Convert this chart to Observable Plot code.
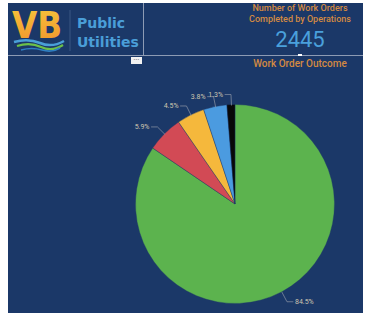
<!DOCTYPE html>
<html>
<head>
<meta charset="utf-8">
<script src="https://cdn.jsdelivr.net/npm/d3@7"></script>
<script src="https://cdn.jsdelivr.net/npm/@observablehq/plot@0.6"></script>
<style>
  html, body { margin: 0; padding: 0; background: #ffffff; width: 371px; height: 320px; overflow: hidden; }
  #panel { position: absolute; left: 8px; top: 3px; width: 355px; height: 310px; background: #1b3868; overflow: hidden; }
  .abs { position: absolute; }
  .title { color: #d48a42; font-family: Roboto, "Noto Sans", sans-serif; font-weight: 500; text-align: center; white-space: nowrap; }
  #chart { position: absolute; left: 0px; top: 67px; }
</style>
</head>
<body>
<div id="panel">
  <!-- logo -->
  <svg class="abs" style="left:0;top:0" width="135" height="52">
    <defs>
      <linearGradient id="vbg" x1="0" y1="0" x2="0" y2="1">
        <stop offset="0" stop-color="#f8c83c"/>
        <stop offset="1" stop-color="#f0922c"/>
      </linearGradient>
    </defs>
    <text x="4" y="35" font-family="DejaVu Sans" font-weight="bold" font-size="38" fill="url(#vbg)" transform="translate(4,0) scale(0.86,1) translate(-4,0)">VB</text>
    <path d="M6,39 Q20,35 32,40 T56,38" fill="none" stroke="#4a9fd8" stroke-width="2.5"/>
    <path d="M9,43 Q22,39 33,44 T55,42" fill="none" stroke="#6cc04a" stroke-width="2.2"/>
    <path d="M13,47 Q24,44 34,47 T52,45" fill="none" stroke="#2f7fc2" stroke-width="1.6"/>
    <line x1="62" y1="7" x2="62" y2="48" stroke="#3b5683" stroke-width="1"/>
    <text x="69" y="25" font-family="DejaVu Sans" font-weight="bold" font-size="14" fill="#4a9ed8">Public</text>
    <text x="69" y="44" font-family="DejaVu Sans" font-weight="bold" font-size="14" fill="#4a9ed8">Utilities</text>
  </svg>
  <div class="abs" style="left:135px;top:0;width:1px;height:52px;background:#8d9bb4"></div>
  <div class="abs" style="left:0;top:52px;width:355px;height:1px;background:#8d9bb4"></div>
  <div class="abs" style="left:123px;top:54px;width:11px;height:7px;background:#f2f2f2;color:#777;font:bold 6px sans-serif;line-height:4px;text-align:center">···</div>
  <div class="abs" style="left:290px;top:51px;width:4px;height:2px;background:#ffffff"></div>
  <div class="abs title" style="left:232px;top:0px;width:120px;font-size:9px;line-height:11px">Number of Work Orders<br>Completed by Operations</div>
  <div class="abs" style="left:232px;top:25px;width:120px;text-align:center;color:#4aa0dc;font-family:Roboto, sans-serif;font-size:22px;line-height:24px">2445</div>
  <div class="abs title" style="left:232px;top:55px;width:120px;font-size:10px;line-height:12px">Work Order Outcome</div>
  <div id="chart"></div>
</div>
<script>
// ---- data ----
const outcomes = ["Completed", "Outcome B", "Outcome C", "Outcome D", "Outcome E"];
const shares = [84.5, 5.9, 4.5, 3.8, 1.3];
const sliceColors = ["#5cb34e", "#d24a55", "#f5b83c", "#4b9be0", "#080808"];

const data = outcomes.map((name, i) => ({name, value: shares[i]}));
const arcs = d3.pie().sort(null).value(d => d.value).startAngle(0).endAngle(2 * Math.PI)(data);

// leader lines + labels in data coords (unit circle)
const rElbow = 1.106, hLen = 0.06, gap = 0.02;
const leaders = [];
const labels = [];
arcs.forEach(a => {
  const m = (a.startAngle + a.endAngle) / 2;
  const s = Math.sin(m), c = Math.cos(m);
  const side = s >= 0 ? 1 : -1;
  const ex = rElbow * s, ey = rElbow * c;
  leaders.push({name: a.data.name, x: s, y: c});
  leaders.push({name: a.data.name, x: ex, y: ey});
  leaders.push({name: a.data.name, x: ex + side * hLen, y: ey});
  labels.push({name: a.data.name, x: ex + side * (hLen + gap), y: ey, side, text: d3.format(".1f")(a.data.value) + "%"});
});

function pieMark(index, scales, values, dimensions) {
  const cx = scales.x(0), cy = scales.y(0);
  const r = scales.x(1) - scales.x(0);
  const color = scales.color || d3.scaleOrdinal(outcomes, sliceColors);
  const g = d3.create("svg:g").attr("transform", `translate(${cx},${cy})`);
  const arcGen = d3.arc().innerRadius(0).outerRadius(r);
  g.selectAll("path").data(arcs).join("path")
    .attr("d", arcGen)
    .attr("fill", d => color(d.data.name))
    .attr("stroke", "#1b3868")
    .attr("stroke-width", 0.4);
  return g.node();
}

const chart = Plot.plot({
  width: 355,
  height: 243,
  style: {background: "transparent", overflow: "visible"},
  x: {domain: [-1, 1], range: [127.5, 326.5], axis: null},
  y: {domain: [-1, 1], range: [233.5, 34.5], axis: null},
  color: {domain: outcomes, range: sliceColors},
  marks: [
    Plot.dot(data, {x: () => 0, y: () => 0, fill: "name", r: 0}),
    pieMark,
    Plot.line(leaders, {x: "x", y: "y", z: "name", stroke: "#8f98a8", strokeWidth: 0.7}),
    Plot.text(labels.filter(d => d.side > 0), {x: "x", y: "y", text: "text", textAnchor: "start", fill: "#cfc6b0", fontSize: 7, fontFamily: "Roboto, sans-serif"}),
    Plot.text(labels.filter(d => d.side < 0), {x: "x", y: "y", text: "text", textAnchor: "end", fill: "#cfc6b0", fontSize: 7, fontFamily: "Roboto, sans-serif"})
  ]
});
document.getElementById("chart").appendChild(chart);
</script>
</body>
</html>
